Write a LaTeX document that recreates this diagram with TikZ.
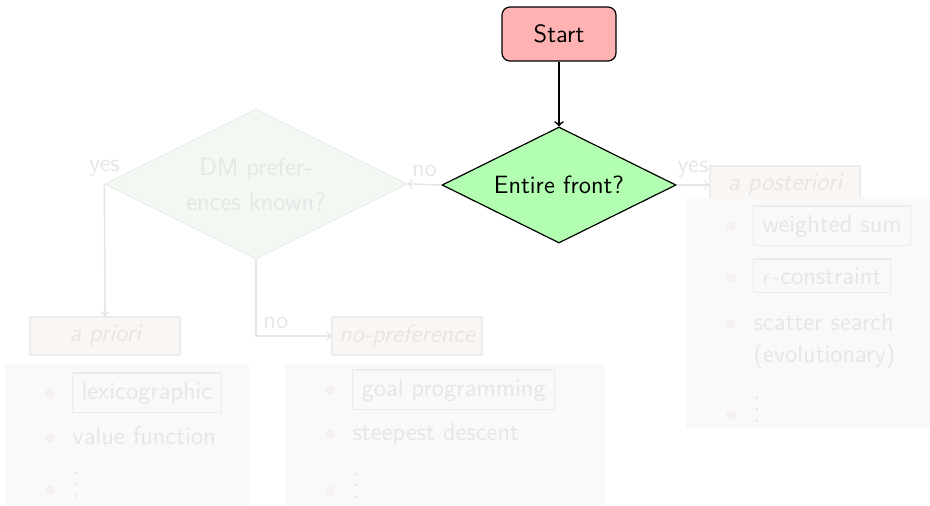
\documentclass[tikz,border=0pt]{standalone}
\usepackage{amsmath}
\usepackage{tikz}
\usetikzlibrary{shapes.geometric}

\definecolor{fadetext}{RGB}{230,230,230}
\definecolor{fadeline}{RGB}{230,230,230}
\definecolor{fadegreen}{RGB}{242,249,242}
\definecolor{fadecat}{RGB}{249,246,243}
\definecolor{fadelist}{RGB}{249,249,249}
\definecolor{fadeframe}{RGB}{236,236,236}
\definecolor{fadebullet}{RGB}{247,240,241}

\newcommand{\morevdots}{\vbox{\baselineskip=5.75pt \lineskiplimit=0pt \hbox{.}\hbox{.}\hbox{.}}}

\begin{document}
\begin{tikzpicture}[x=0.5pt, y=-0.5pt, font=\sffamily\fontsize{12.5}{15}\selectfont, semithick, >=to,
    startbox/.style={draw, rounded corners=4pt, fill=red!30, minimum width=57pt, minimum height=27pt},
    decision/.style={draw, diamond, aspect=2, inner sep=0pt, align=center},
    catbox/.style={draw=fadeframe, fill=fadecat, text=fadetext, font=\sffamily\fontsize{12.5}{15}\selectfont\itshape, minimum width=75pt, minimum height=19pt},
    listbox/.style={fill=fadelist, inner sep=0pt},
    itembox/.style={draw=fadeframe, text=fadetext, inner xsep=4.5pt, inner ysep=4.3pt, anchor=base west},
    itemtext/.style={text=fadetext, inner xsep=0pt, anchor=base west},
    dot/.style={circle, fill=fadebullet, inner sep=0pt, minimum size=5pt},
    faded/.style={fadeline, text=fadetext, thick}]
    \useasboundingbox (0,0) rectangle (930,505);
    % Decisions
    \node[startbox] (start) at (559,34) {Start};
    \node[decision, fill=green!30, minimum width=117pt, minimum height=58pt] (front) at (559,185) {Entire front?};
    \node[decision, draw=fadeframe, fill=fadegreen, text=fadetext, minimum width=151pt, minimum height=75pt]
        (pref) at (256,184) {DM prefer-\\[2.5pt]ences known?};
    % Method classes
    \node[catbox] (priori) at (105,336) {a priori};
    \node[catbox] (nopref) at (407,336) {no-preference};
    \node[catbox] (post) at (785,185) {a posteriori};
    % Method lists
    \node[listbox, minimum width=122pt, minimum height=70.5pt] (priorilist) at (127,434.5) {};
    \node[listbox, minimum width=160pt, minimum height=70.5pt] (noplist) at (445,434.5) {};
    \node[listbox, minimum width=122pt, minimum height=115.5pt] (postlist) at (808,312.5) {};
    % a priori items
    \node[dot] (b1) at (50,393) {};
    \node[itembox] (lex) at (72,399) {lexicographic};
    \node[dot] (b2) at (50,438) {};
    \node[itemtext] (valfun) at (72,444) {value function};
    \node[dot] (b3) at (50,490) {};
    \node[itemtext] (moreA) at (72,497) {\morevdots};
    % no-preference items
    \node[dot] (b4) at (330,390) {};
    \node[itembox] (goal) at (352,396) {goal programming};
    \node[dot] (b5) at (330,434) {};
    \node[itemtext] (steep) at (352,440) {steepest descent};
    \node[dot] (b6) at (330,491) {};
    \node[itemtext] (moreB) at (352,498) {\morevdots};
    % a posteriori items
    \node[dot] (b7) at (731,226) {};
    \node[itembox] (wsum) at (753,232) {weighted sum};
    \node[dot] (b8) at (731,278) {};
    \node[itembox] (eps) at (753,284) {$\epsilon$-constraint};
    \node[dot] (b9) at (731,324) {};
    \node[itemtext] (scatter) at (753,330) {scatter search};
    \node[itemtext] (evo) at (753,362) {(evolutionary)};
    \node[dot] (b10) at (731,415) {};
    \node[itemtext] (moreC) at (753,422) {\morevdots};
    % Connectors
    \draw[->, thick] (start) -- (front);
    \draw[->, faded] (front.west) -- (pref.east) node[midway, above] {no};
    \draw[->, faded] (front.east) -- (post.west) node[midway, above] {yes};
    \draw[->, faded] (pref.west) -- (priori.north) node[pos=0, above] {yes};
    \draw[->, faded] (pref.south) |- (nopref.west) node[pos=0.5, above right] {no};
\end{tikzpicture}
\end{document}
